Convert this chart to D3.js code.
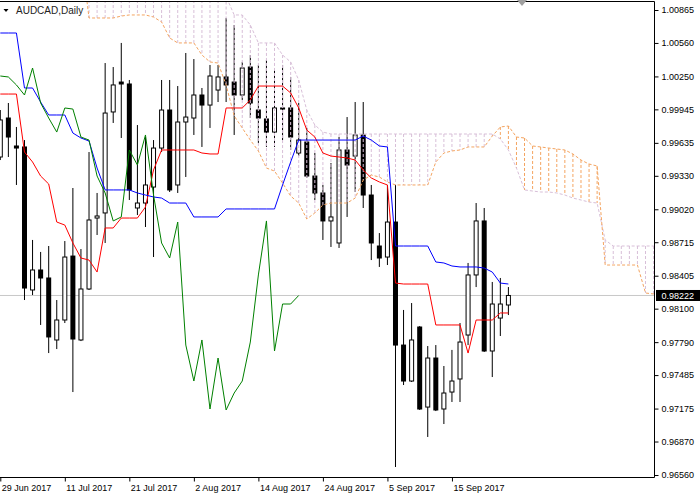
<!DOCTYPE html>
<html><head><meta charset="utf-8">
<script src="https://cdn.jsdelivr.net/npm/d3@7/dist/d3.min.js"></script>
<style>
html,body{margin:0;padding:0;background:#fff;}
svg{display:block;}
text{font-family:"Liberation Sans",Arial,sans-serif;}
</style></head><body>
<svg id="c" width="700" height="499"></svg>
<script>
// ---------- DATA ----------
const symbolTitle = "AUDCAD,Daily";
const dateLabels = ["29 Jun 2017","11 Jul 2017","21 Jul 2017","2 Aug 2017","14 Aug 2017","24 Aug 2017","5 Sep 2017","15 Sep 2017"];
const dateIndex = [0,8,16,24,32,40,48,56];
const priceTicks = [1.00865,1.00560,1.00250,0.99945,0.99635,0.99330,0.99020,0.98715,0.98405,0.98100,0.97790,0.97485,0.97175,0.96870,0.96560];
const lastPrice = 0.98222;

const open = [
.99504,.99865,.99606,.99597,.98273,.98458,.98384,.97810,.97995,.98587,
.97810,.98282,.98939,.98986,.99921,1.00198,1.00180,.99032,.99078,.99226,
.99587,.99939,.99245,.99828,.99865,1.00078,.99985,1.00124,1.00245,1.00198,
1.00078,1.00337,.99939,.99856,.99735,.99958,.99958,.99541,.99643,.99328,
.99171,.98912,.98708,.99569,.99513,.99708,.99152,.98680,.98578,.98902,
.97763,.97430,.97930,.97189,.97643,.97171,.97328,.97449,.97856,.98412,
.98912,.97708,.98013,.98134];
const high = [
.99939,1.00004,.99782,.99661,.98736,.98625,.98680,.98180,.98726,.99217,
.98652,.99550,.99171,1.00374,1.00337,1.00560,1.00217,.99800,.99689,.99661,
1.00217,1.00217,1.00161,1.00467,1.00411,1.00143,1.00356,1.00356,1.00791,1.00726,
1.00384,1.00448,1.00356,1.00402,1.00310,1.00356,1.00245,1.00004,.99773,.99541,
.99245,.99448,.99689,.99874,1.00013,1.00013,.99245,.98800,.99245,.99245,
.98088,.98152,.97939,.97754,.97763,.97569,.97718,.97967,.98523,.99078,
.99032,.98347,.98384,.98300];
const low = [
.99476,.99504,.99245,.98180,.98226,.97949,.97689,.97726,.97967,.97328,
.97800,.98273,.98782,.98708,.99819,.99680,.99106,.98967,.98856,.98578,
.99550,.99180,.99171,.99319,.99708,.99597,.99773,1.00013,1.00013,.99708,
1.00032,.99865,.99634,.99597,.99597,.99661,.99569,.99513,.99310,.99106,
.98736,.98671,.98662,.98949,.99180,.99032,.98550,.98486,.98504,.96634,
.97393,.97421,.97162,.96912,.97152,.97032,.97236,.97236,.97763,.98300,
.97699,.97467,.97847,.98041];
const close = [
.99847,.99689,.99587,.98291,.98458,.98384,.97838,.97995,.98578,.97819,
.98282,.98921,.98958,.99911,1.00171,1.00180,.99199,.99078,.99245,.99587,
.99939,.99199,.99828,.99874,1.00078,.99985,1.00254,1.00245,1.00171,1.00078,
1.00328,1.00004,.99865,.99735,.99958,.99948,.99689,.99661,.99328,.99171,
.98912,.98949,.99569,.99430,.99708,.99152,.98708,.98569,.98902,.97763,
.97430,.97810,.97171,.97643,.97162,.97319,.97430,.97791,.98412,.98912,
.97708,.98143,.98143,.98222];

const tenkan = [
1.00087,1.00087,1.00087,.99550,.99458,.99328,.99254,.98902,.98874,.98708,
.98569,.98550,.98439,.98847,.98847,.98939,.98939,.98939,.99041,.99384,
.99569,.99569,.99569,.99569,.99569,.99541,.99532,.99532,.99958,.99958,
.99958,1.00032,1.00161,1.00161,1.00161,1.00161,1.00097,.99958,.99754,.99689,
.99541,.99513,.99504,.99495,.99476,.99384,.99310,.99273,.99245,.98337,
.98328,.98328,.98328,.98328,.97949,.97949,.97949,.97949,.97689,.97995,
.97995,.97995,.98060,.98060];
const kijun = [
1.00652,1.00652,1.00652,1.00143,1.00143,1.00013,.99893,.99893,.99893,.99726,
.99680,.99652,.99402,.99199,.99199,.99199,.99199,.99171,.99152,.99134,
.99124,.99078,.99078,.99078,.98949,.98949,.98949,.98949,.99023,.99023,
.99023,.99023,.99023,.99023,.99023,.99245,.99458,.99661,.99661,.99661,
.99661,.99661,.99661,.99661,.99661,.99698,.99661,.99606,.99597,.98680,
.98680,.98680,.98680,.98680,.98532,.98523,.98495,.98486,.98486,.98486,
.98476,.98439,.98337,.98328];
// Senkou spans, plotted 26 bars ahead (display index 0..82)
const senkouA = [
1.01400,1.01400,1.01400,1.01400,1.01400,1.01400,1.01400,1.01400,1.01400,1.01400,
1.01400,1.00791,1.00791,1.00791,1.00791,1.00809,1.00819,1.00819,1.00819,1.00800,
1.00754,1.00606,1.00560,1.00560,1.00560,1.00448,1.00384,1.00374,1.00171,.99884,
.99773,.99661,.99560,.99402,.99374,.99263,.99143,.99078,.98930,.98986,
.99060,.99078,.99078,.99078,.99124,.99291,.99337,.99319,.99273,.99245,
.99245,.99245,.99245,.99245,.99458,.99541,.99560,.99569,.99597,.99597,
.99597,.99698,.99782,.99791,.99689,.99680,.99606,.99597,.99587,.99578,
.99569,.99532,.99476,.99439,.99421,.98504,.98504,.98504,.98504,.98504,
.98245,.98236,.98236];
const senkouB = [
1.01050,1.01050,1.01050,1.01050,1.01050,1.01050,1.01050,1.01050,1.01050,1.01050,
1.01050,1.01050,1.01050,1.01050,1.01050,1.01050,1.01050,1.01050,1.01050,1.01050,
1.01050,1.01050,1.01050,1.01050,1.01050,1.01050,1.01050,1.01050,1.00990,1.00819,
1.00819,1.00726,1.00560,1.00560,1.00560,1.00448,1.00384,1.00217,.99939,.99800,
.99735,.99717,.99717,.99717,.99717,.99717,.99717,.99717,.99717,.99717,
.99717,.99717,.99717,.99717,.99717,.99717,.99717,.99717,.99717,.99717,
.99717,.99717,.99671,.99569,.99402,.99199,.99189,.99180,.99180,.99171,
.99152,.99124,.99106,.99087,.99078,.98736,.98680,.98680,.98680,.98680,
.98680,.98680,.98680];
const chikouShift = 26;

// ---------- DRAW ----------
const svg = d3.select("#c");
const plotR = 654.5, plotT = 1.5, plotB = 477.5;
const y = d3.scaleLinear().domain([0.96560, 1.00865]).range([475, 10]);
const x = d3.scaleLinear().domain([0, 63]).range([0.3, 508.4]);

svg.append("defs").append("clipPath").attr("id","clip")
  .append("rect").attr("x",0).attr("y",2).attr("width",654).attr("height",475);
const g = svg.append("g").attr("clip-path","url(#clip)");

// last price line
g.append("line").attr("x1",0).attr("x2",654).attr("y1",y(lastPrice)).attr("y2",y(lastPrice))
  .attr("stroke","#c8c8c8").attr("stroke-width",1);

// candles
const bars = d3.range(open.length).map(i => ({i, o:open[i], h:high[i], l:low[i], c:close[i]}));
const cg = g.append("g");
cg.selectAll("line.wick").data(bars).join("line").attr("class","wick")
  .attr("x1",d=>x(d.i)).attr("x2",d=>x(d.i)).attr("y1",d=>y(d.h)).attr("y2",d=>y(d.l))
  .attr("stroke","#000").attr("stroke-width",1);
cg.selectAll("rect.body").data(bars).join("rect").attr("class","body")
  .each(function(d){
    const s = d3.select(this);
    const top = y(Math.max(d.o,d.c)), bot = y(Math.min(d.o,d.c));
    if (d.c >= d.o) {
      s.attr("x",x(d.i)-2).attr("width",4).attr("y",top).attr("height",Math.max(bot-top,1))
       .attr("fill","#fff").attr("stroke","#000").attr("stroke-width",1);
    } else {
      s.attr("x",x(d.i)-2.5).attr("width",5).attr("y",top-0.5).attr("height",Math.max(bot-top+1,1))
       .attr("fill","#000");
    }
  });

// cloud hatch
const xc = i => x(i);
const cloud = d3.range(senkouA.length).map(i => ({i, a:senkouA[i], b:senkouB[i]}));
g.append("g").selectAll("line").data(cloud).join("line")
  .attr("x1",d=>xc(d.i)).attr("x2",d=>xc(d.i))
  .attr("y1",d=>y(Math.max(d.a,d.b))).attr("y2",d=>y(Math.min(d.a,d.b)))
  .attr("stroke",d=> d.a > d.b ? "#F4A460" : "#D8BFD8")
  .attr("stroke-width",1).attr("stroke-dasharray","3,2");

// span lines
const lineGen = d3.line().x(d=>xc(d.i)).y(d=>y(d.v));
g.append("path").datum(cloud.map(d=>({i:d.i, v:d.b}))).attr("d",lineGen)
  .attr("fill","none").attr("stroke","#D8BFD8").attr("stroke-width",1).attr("stroke-dasharray","3,2");
g.append("path").datum(cloud.map(d=>({i:d.i, v:d.a}))).attr("d",lineGen)
  .attr("fill","none").attr("stroke","#F4A460").attr("stroke-width",1).attr("stroke-dasharray","3,2");

// tenkan / kijun / chikou
g.append("path").datum(tenkan.map((v,i)=>({i,v}))).attr("d",lineGen)
  .attr("fill","none").attr("stroke","#ff0000").attr("stroke-width",1);
g.append("path").datum(kijun.map((v,i)=>({i,v}))).attr("d",lineGen)
  .attr("fill","none").attr("stroke","#0000ff").attr("stroke-width",1);
const chikou = close.slice(chikouShift).map((v,k)=>({i:k, v}));
g.append("path").datum(chikou).attr("d",lineGen)
  .attr("fill","none").attr("stroke","#008000").attr("stroke-width",1);

// frame
svg.append("line").attr("x1",0).attr("x2",plotR).attr("y1",plotT).attr("y2",plotT).attr("stroke","#000");
svg.append("line").attr("x1",plotR).attr("x2",plotR).attr("y1",plotT).attr("y2",plotB).attr("stroke","#000");
svg.append("line").attr("x1",0).attr("x2",plotR).attr("y1",plotB).attr("y2",plotB).attr("stroke","#000");

// axes
const ay = svg.append("g").attr("transform",`translate(${plotR},0)`)
  .call(d3.axisRight(y).tickValues(priceTicks).tickSize(4).tickPadding(3).tickFormat(d=>d.toFixed(5)));
ay.select(".domain").remove();
ay.selectAll("text").attr("font-size",9).attr("font-family","'Liberation Sans',Arial,sans-serif").attr("fill","#000");
ay.selectAll("line").attr("stroke","#000");

const ax = svg.append("g").attr("transform",`translate(0,${plotB})`)
  .call(d3.axisBottom(x).tickValues(dateIndex).tickSize(4).tickPadding(3).tickFormat((d,k)=>dateLabels[k]));
ax.select(".domain").remove();
ax.selectAll("text").attr("font-size",9).attr("font-family","'Liberation Sans',Arial,sans-serif")
  .attr("fill","#000").attr("text-anchor","start").attr("x",1);
ax.selectAll("line").attr("stroke","#000");

// last price label
const ly = y(lastPrice);
svg.append("rect").attr("x",656).attr("y",ly-5.5).attr("width",44).attr("height",11).attr("fill","#000");
svg.append("text").attr("x",661.5).attr("y",ly+3.3).attr("font-size",9).attr("fill","#fff").text(lastPrice.toFixed(5));

// title
svg.append("path").attr("d","M3.5,9 L8.5,9 L6,12 Z").attr("fill","#000");
svg.append("text").attr("x",16).attr("y",13.5).attr("font-size",10).attr("fill","#222").text(symbolTitle);
// shift marker
svg.append("path").attr("d","M517,0 L527,0 L522,6 Z").attr("fill","#a0a0a0");
</script>
</body></html>
